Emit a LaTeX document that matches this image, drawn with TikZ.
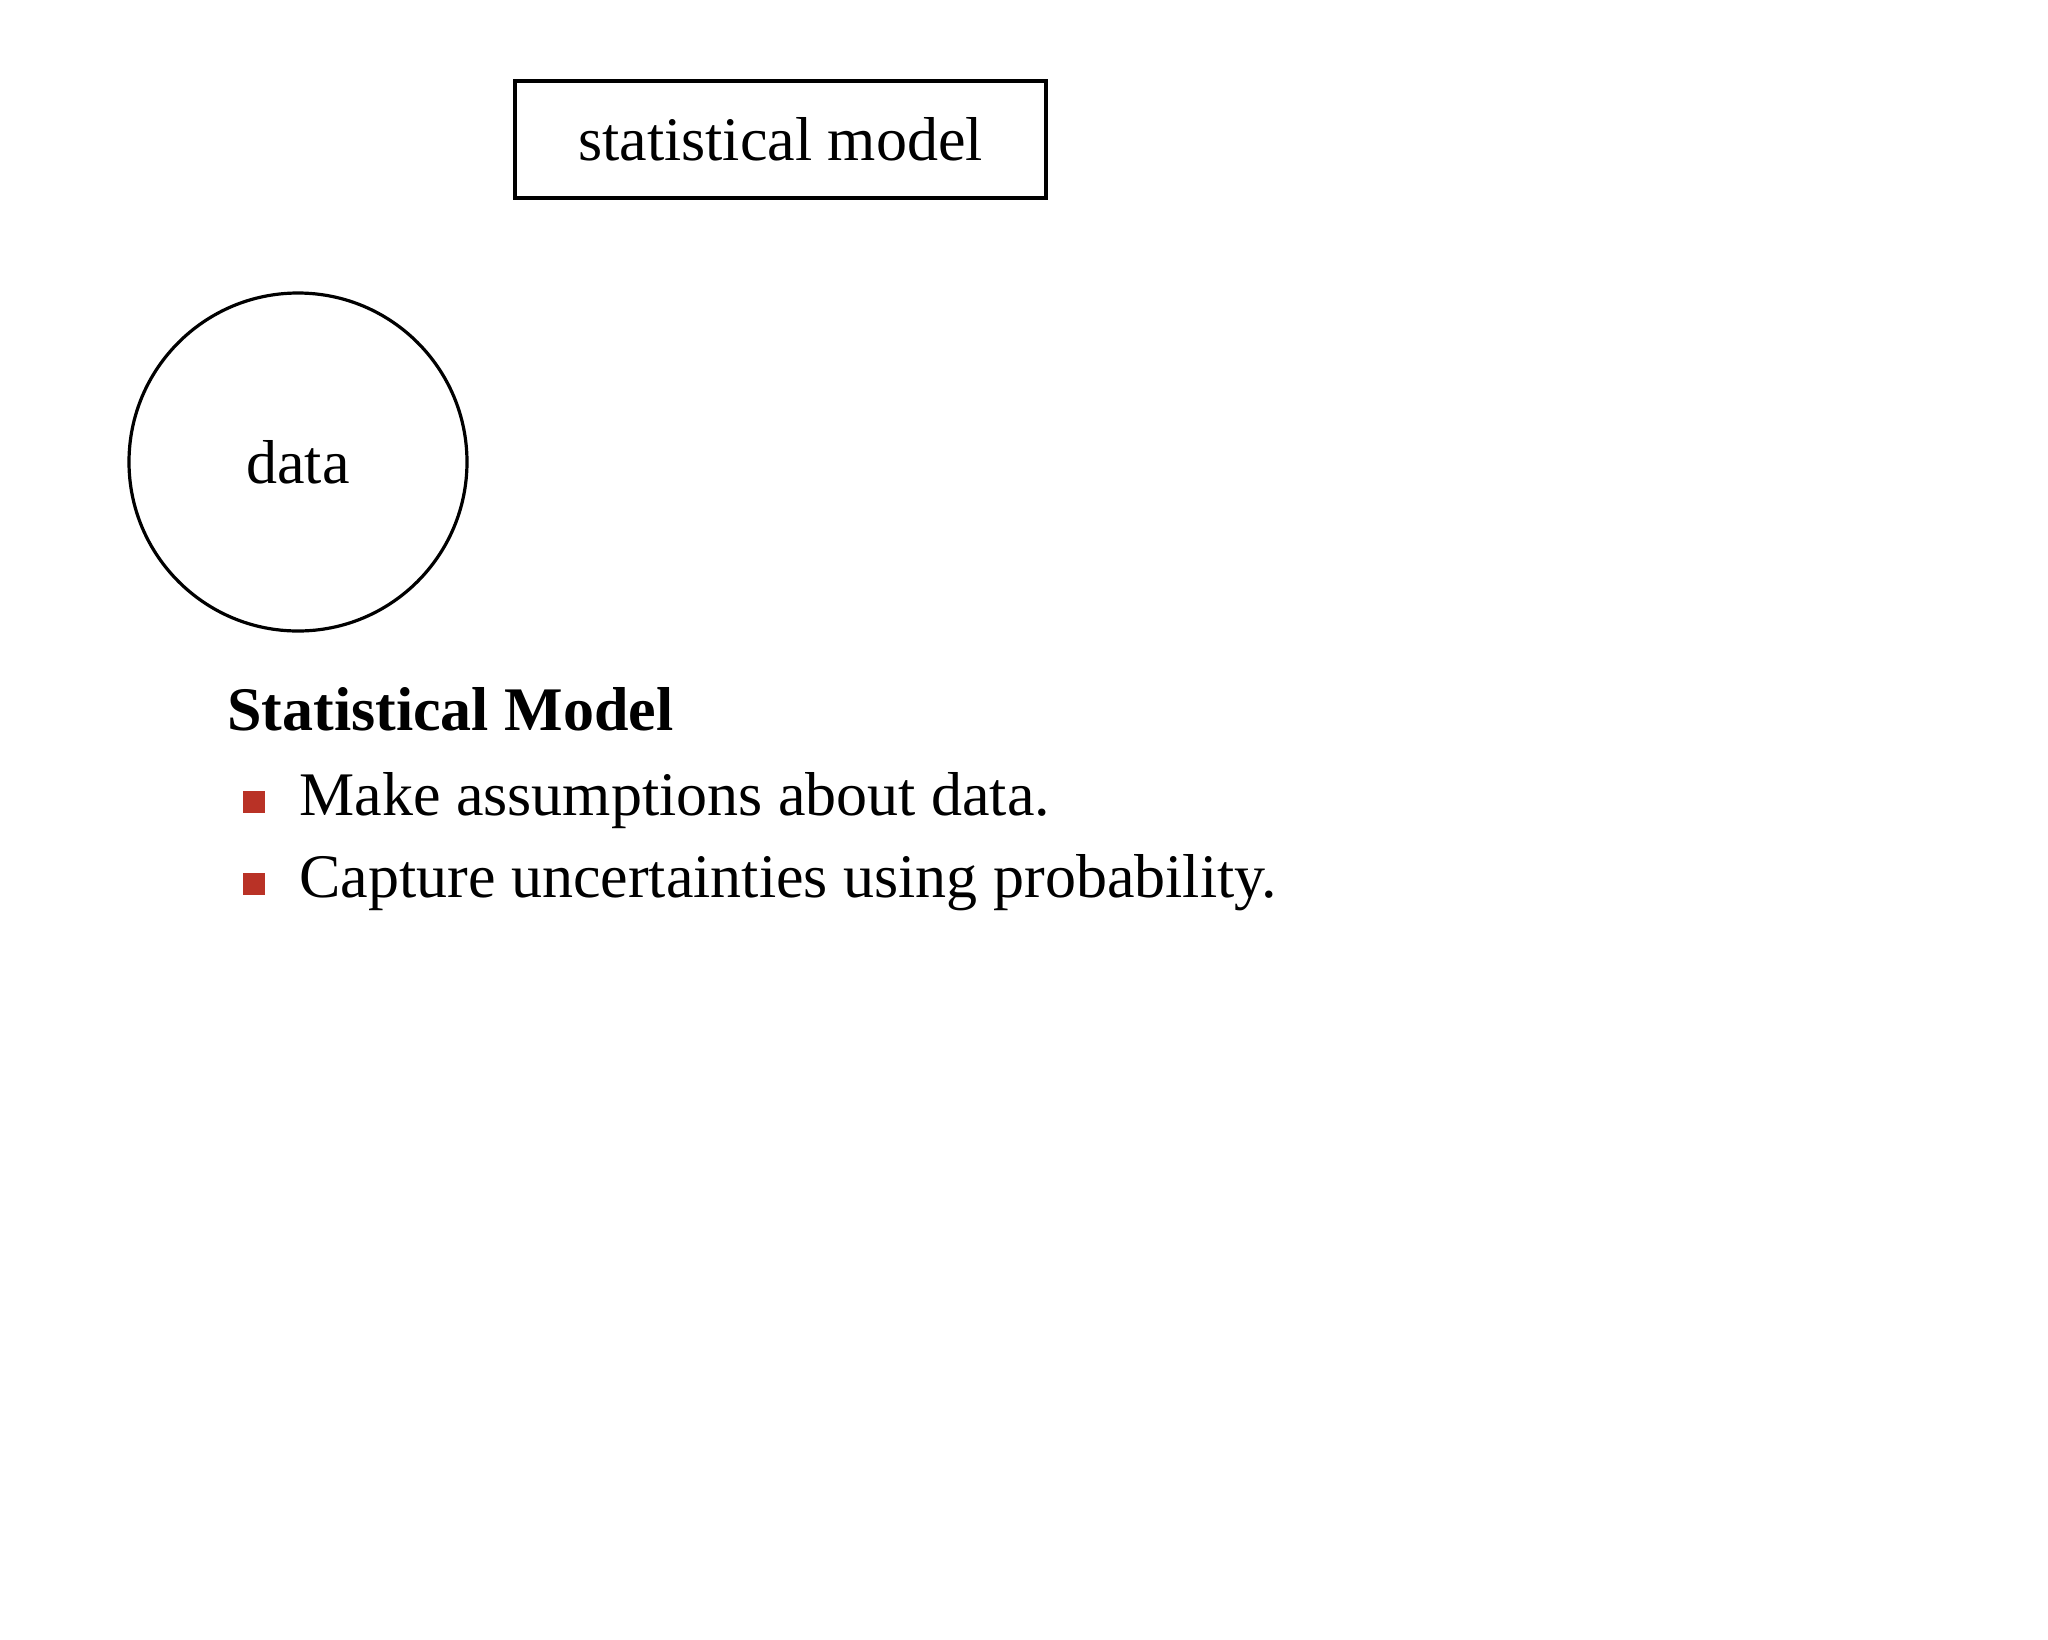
\documentclass[tikz,border=0pt]{standalone}
\usepackage{fontspec}
\setmainfont{Liberation Serif}
\definecolor{bred}{RGB}{185,50,38}
\begin{document}
\begin{tikzpicture}[x=0.5pt,y=-0.5pt,
  txt/.style={font=\fontsize{31}{37}\selectfont, inner sep=0pt},
  bul/.style={fill=bred, minimum size=11pt, inner sep=0pt}]
\useasboundingbox (0,0) rectangle (2048,1639);
\node[draw, line width=1.6pt, minimum width=531*0.5pt, minimum height=117*0.5pt, font=\fontsize{31}{37}\selectfont] (sm) at (780.5,139.5) {statistical model};
\node[draw, circle, line width=1.6pt, minimum size=338*0.5pt, font=\fontsize{31}{37}\selectfont] (data) at (298,462) {data};
\node[txt, anchor=base west, font=\fontsize{31}{37}\selectfont\bfseries] (title) at (227,730) {Statistical Model};
\node[bul] (b1) at (254,802) {};
\node[bul] (b2) at (254,884) {};
\node[txt, anchor=base west] (l1) at (299,815) {Make assumptions about data.};
\node[txt, anchor=base west] (l2) at (299,897) {Capture uncertainties using probability.};
\end{tikzpicture}
\end{document}
